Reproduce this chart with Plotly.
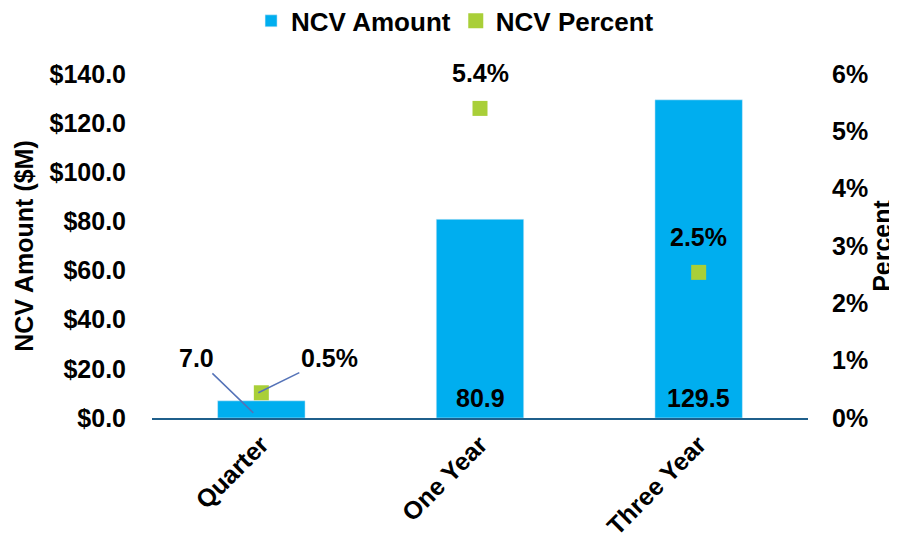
import plotly.graph_objects as go

categories = ["Quarter", "One Year", "Three Year"]
ncv_amount = [7.0, 80.9, 129.5]
ncv_percent = [0.44, 5.4, 2.54]
amount_labels = ["7.0", "80.9", "129.5"]
percent_labels = ["0.5%", "5.4%", "2.5%"]
left_ticks = [0, 20, 40, 60, 80, 100, 120, 140]
left_tick_text = ["$0.0", "$20.0", "$40.0", "$60.0", "$80.0", "$100.0", "$120.0", "$140.0"]
right_ticks = [0, 1, 2, 3, 4, 5, 6]
right_tick_text = ["0%", "1%", "2%", "3%", "4%", "5%", "6%"]

FONT = "Liberation Sans, Arial, sans-serif"
FS = 25
BAR = "#00AEEF"
GREEN = "#A9CF38"
LEAD = "#5573B8"

fig = go.Figure()
fig.add_trace(go.Bar(
    x=categories, y=ncv_amount, name="<b>NCV Amount</b>",
    marker_color=BAR, width=0.4, yaxis="y",
))
fig.add_trace(go.Scatter(
    x=categories, y=ncv_percent, name="<b>NCV Percent</b>", mode="markers",
    marker=dict(symbol="square", size=15, color=GREEN), yaxis="y2",
))

anns = []
for i, c in enumerate(categories):
    if i == 0:
        anns.append(dict(x=c, y=ncv_amount[i] * 0.3, xref="x", yref="y", xshift=-8,
                         text=f"<b>{amount_labels[i]}</b>", showarrow=True, arrowhead=0,
                         arrowwidth=1.5, arrowcolor=LEAD, ax=-57, ay=-55, standoff=0))
    else:
        anns.append(dict(x=c, y=0, xref="x", yref="y", yanchor="bottom", yshift=4,
                         text=f"<b>{amount_labels[i]}</b>", showarrow=False))
for i, c in enumerate(categories):
    if i == 0:
        anns.append(dict(x=c, y=ncv_percent[i], xref="x", yref="y2", xshift=-3,
                         text=f"<b>{percent_labels[i]}</b>", showarrow=True, arrowhead=0,
                         arrowwidth=1.5, arrowcolor=LEAD, ax=71, ay=-35, standoff=0))
    else:
        anns.append(dict(x=c, y=ncv_percent[i], xref="x", yref="y2", yshift=35,
                         text=f"<b>{percent_labels[i]}</b>", showarrow=False))

fig.update_layout(
    width=889, height=539,
    margin=dict(l=144, r=89, t=66, b=129),
    plot_bgcolor="white", paper_bgcolor="white",
    font=dict(family=FONT, size=FS, color="black"),
    showlegend=True,
    legend=dict(orientation="h", x=0.462, xanchor="center", y=0.976, yref="container",
                yanchor="middle", font=dict(size=26), tracegroupgap=0,
                bgcolor="rgba(0,0,0,0)"),
    xaxis=dict(
        type="category", range=[-0.5, 2.5], tickangle=-45, automargin=False,
        showline=True, linecolor="#1F5F8B", linewidth=2,
        tickfont=dict(size=FS), ticks="", showgrid=False, zeroline=False,
        tickprefix="<b>", ticksuffix="</b>",
    ),
    yaxis=dict(
        range=[0, 140], tickvals=left_ticks, automargin=False,
        ticktext=[f"<b>{t}</b>" for t in left_tick_text],
        showgrid=False, zeroline=False, ticks="outside", ticklen=20, tickcolor="rgba(0,0,0,0)",
        title=dict(text="<b>NCV Amount ($M)</b>", font=dict(size=FS), standoff=8),
    ),
    yaxis2=dict(
        range=[0, 6], tickvals=right_ticks, automargin=False,
        ticktext=[f"<b>{t}</b>" for t in right_tick_text],
        overlaying="y", side="right", showgrid=False, zeroline=False,
        ticks="outside", ticklen=18, tickcolor="rgba(0,0,0,0)",
        title=dict(text="<b>Percent</b>", font=dict(size=FS), standoff=6),
    ),
    annotations=anns,
)

fig.write_html("out.html")
